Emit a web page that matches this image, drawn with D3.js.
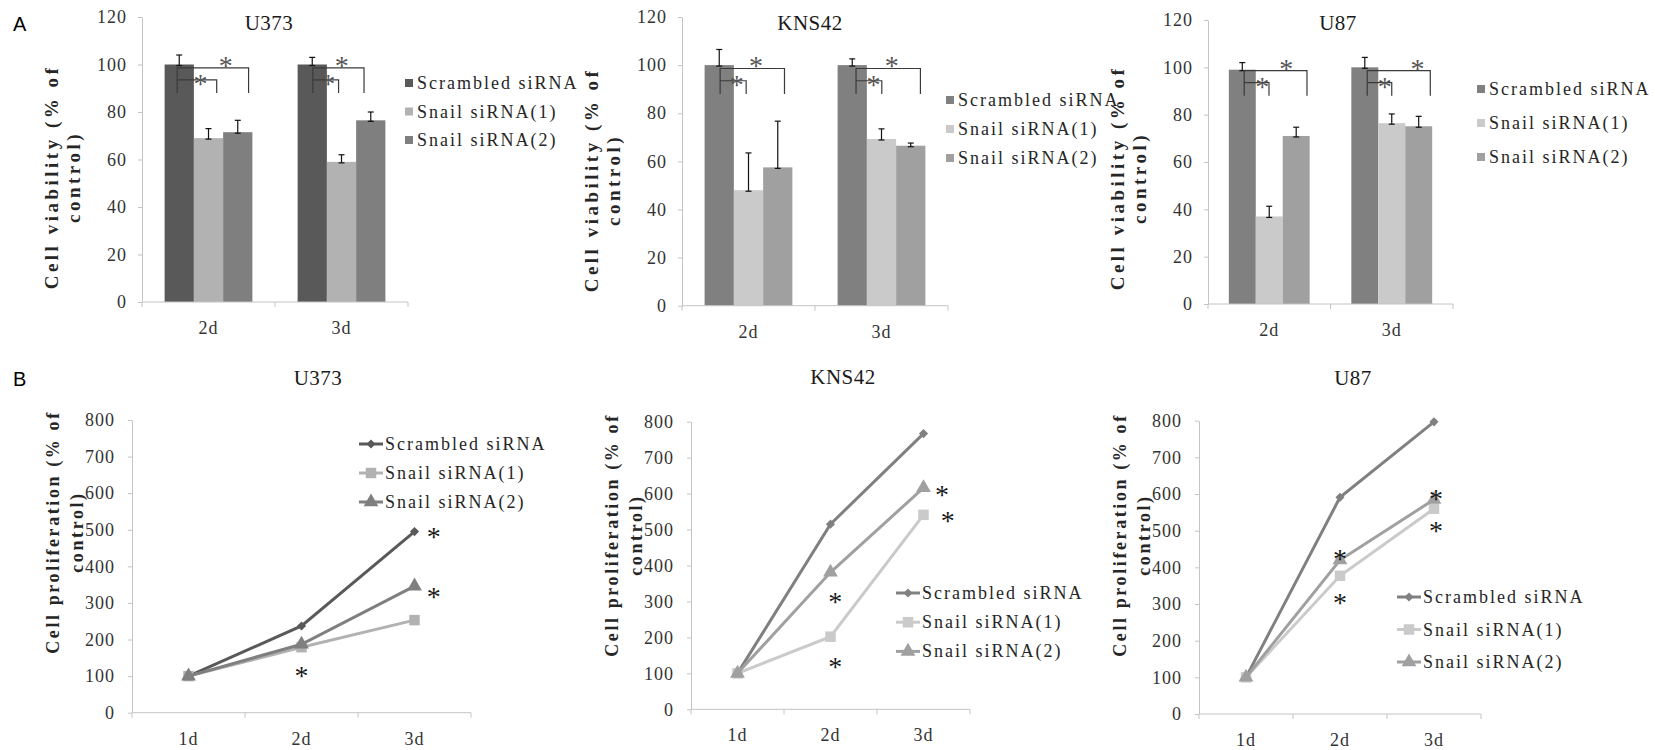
<!DOCTYPE html>
<html>
<head>
<meta charset="utf-8">
<script src="https://cdn.jsdelivr.net/npm/d3@7"></script>
<style>
  body { margin: 0; background: #fff; }
  svg { display: block; }
</style>
</head>
<body>
<svg id="fig" width="1655" height="750"></svg>
<script>
// Nombres de las series y categorias
const seriesNames = ['Scrambled siRNA', 'Snail siRNA(1)', 'Snail siRNA(2)']
const barDays = ['2d', '3d']
const lineDays = ['1d', '2d', '3d']
const viabilityTicks = [0, 20, 40, 60, 80, 100, 120]
const prolifTicks = [0, 100, 200, 300, 400, 500, 600, 700, 800]

// A: viabilidad (%), una fila por serie, columnas = 2d, 3d
const u373Viab = [[100, 100], [69, 59], [71.5, 76.5]]
const u373ViabErr = [[4, 3], [4, 3], [5, 3.5]]
const kns42Viab = [[100, 100], [48, 69.3], [57.5, 66.5]]
const kns42ViabErr = [[6.5, 2.6], [15.5, 4.2], [19.2, 1.1]]
const u87Viab = [[99, 100], [37, 76.4], [71, 75.1]]
const u87ViabErr = [[3, 4.2], [4.3, 3.9], [3.7, 4.2]]

// B: proliferacion (%), columnas = 1d, 2d, 3d
const u373Scrambled = [100, 237, 495]
const u373Snail1 = [100, 179, 253]
const u373Snail2 = [100, 187, 346]
const kns42Scrambled = [100, 515, 767]
const kns42Snail1 = [100, 202, 541]
const kns42Snail2 = [100, 381, 616]
const u87Scrambled = [100, 591, 797]
const u87Snail1 = [100, 377, 560]
const u87Snail2 = [100, 420, 585]

const svg = d3.select('#fig')
const serif = '"Liberation Serif", "Times New Roman", serif'
const axisGray = '#c4c4c4'

// Titulo del eje y en dos lineas (rotado)
const draw_y_title = (x1, x2, yc, lines, size, spacing) => {
  lines.forEach((t, i) => {
    svg.append('text')
      .attr('transform', `translate(${i === 0 ? x1 : x2},${yc}) rotate(-90)`)
      .attr('text-anchor', 'middle')
      .attr('dominant-baseline', 'central')
      .attr('font-family', serif)
      .attr('font-weight', 'bold')
      .attr('font-size', size)
      .attr('letter-spacing', spacing)
      .attr('fill', '#262626')
      .text(t)
  })
}

const draw_title = (x, y, t) => {
  svg.append('text')
    .attr('x', x).attr('y', y)
    .attr('text-anchor', 'middle')
    .attr('dominant-baseline', 'central')
    .attr('font-family', serif)
    .attr('font-size', 21)
    .attr('letter-spacing', 0.5)
    .attr('fill', '#1a1a1a')
    .text(t)
}

const draw_star = (x, y, color) => {
  svg.append('text')
    .attr('x', x).attr('y', y + 13)
    .attr('text-anchor', 'middle')
    .attr('font-family', serif)
    .attr('font-size', 28)
    .attr('fill', color)
    .text('*')
}

// Eje y estilo Excel
const draw_y_axis = (y, ticks, left, pad) => {
  const g = svg.append('g')
    .attr('transform', `translate(${left},0)`)
    .call(d3.axisLeft(y).tickValues(ticks).tickSize(4).tickSizeOuter(0).tickPadding(pad))
  g.selectAll('path, line').attr('stroke', axisGray)
  g.selectAll('text')
    .attr('font-family', serif)
    .attr('font-size', 18)
    .attr('letter-spacing', 1)
    .attr('fill', '#333')
}

// Eje x: linea, marcas en los limites y etiquetas centradas
const draw_x_axis = (x0, y0, bounds, centers, labels) => {
  svg.append('line')
    .attr('x1', bounds[0]).attr('x2', bounds[bounds.length - 1])
    .attr('y1', y0).attr('y2', y0)
    .attr('stroke', axisGray)
  svg.selectAll(null).data(bounds).enter().append('line')
    .attr('x1', d => d).attr('x2', d => d)
    .attr('y1', y0).attr('y2', y0 + 5)
    .attr('stroke', axisGray)
  svg.selectAll(null).data(labels).enter().append('text')
    .attr('x', (d, i) => centers[i])
    .attr('y', y0 + 26)
    .attr('text-anchor', 'middle')
    .attr('dominant-baseline', 'central')
    .attr('font-family', serif)
    .attr('font-size', 18)
    .attr('letter-spacing', 1)
    .attr('fill', '#333')
    .text(d => d)
}

const draw_bar_panel = cfg => {
  const y = d3.scaleLinear().domain([0, 120]).range([cfg.bottom, cfg.top])
  const x0 = d3.scaleBand().domain(barDays).range([cfg.left, cfg.right])
  const bw = x0.bandwidth()
  const x1 = d3.scaleBand().domain([0, 1, 2]).range([bw * 0.17, bw * 0.83])
  const barW = x1.bandwidth()

  draw_y_axis(y, viabilityTicks, cfg.left, 11)

  // Barras
  cfg.values.forEach((row, i) => {
    svg.selectAll(null).data(row).enter().append('rect')
      .attr('x', (d, j) => x0(barDays[j]) + x1(i))
      .attr('y', d => y(d))
      .attr('width', barW)
      .attr('height', d => y(0) - y(d))
      .attr('fill', cfg.colors[i])
  })

  draw_x_axis(x0, y(0),
    [x0('2d'), x0('3d'), x0('3d') + bw],
    barDays.map(d => x0(d) + bw / 2), barDays)

  // Barras de error
  cfg.values.forEach((row, i) => {
    row.forEach((v, j) => {
      const cx = x0(barDays[j]) + x1(i) + barW / 2
      const top = y(v + cfg.errors[i][j])
      const bot = y(v) + 1
      const eg = svg.append('g').attr('stroke', '#111').attr('stroke-width', 1.2)
      eg.append('line').attr('x1', cx).attr('x2', cx).attr('y1', top).attr('y2', bot)
      eg.append('line').attr('x1', cx - 3).attr('x2', cx + 3).attr('y1', top).attr('y2', top)
      eg.append('line').attr('x1', cx - 3).attr('x2', cx + 3).attr('y1', bot).attr('y2', bot)
    })
  })

  // Corchetes de significancia (posiciones en anchos de barra desde el centro del grupo)
  cfg.brackets.forEach((b, j) => {
    const c = x0(barDays[j]) + bw / 2
    const px = u => c + u * barW
    const yo = y(98.6), yi = y(93.5), yf = y(88)
    const path = d3.path()
    path.moveTo(px(b[0]), yf); path.lineTo(px(b[0]), yo); path.lineTo(px(b[2]), yo); path.lineTo(px(b[2]), yf)
    path.moveTo(px(b[0]), yi); path.lineTo(px(b[1]), yi); path.lineTo(px(b[1]), yf)
    svg.append('path').attr('d', path.toString())
      .attr('fill', 'none').attr('stroke', '#3a3a3a').attr('stroke-width', 1.2)
    draw_star(px(b[3]), yi, '#555')
    draw_star(px(b[4]), yo - 6, '#555')
  })

  // Leyenda
  seriesNames.forEach((n, i) => {
    const ly = cfg.legY + i * cfg.legGap
    svg.append('rect')
      .attr('x', cfg.legX).attr('y', ly - 4).attr('width', 8).attr('height', 8)
      .attr('fill', cfg.colors[i])
    svg.append('text')
      .attr('x', cfg.legX + 12).attr('y', ly)
      .attr('dominant-baseline', 'central')
      .attr('font-family', serif)
      .attr('font-size', 18)
      .attr('letter-spacing', 2)
      .attr('fill', '#262626')
      .text(n)
  })

  draw_title(cfg.titleX, cfg.titleY, cfg.title)
  draw_y_title(cfg.left - 91, cfg.left - 69, cfg.yTitleC, ['Cell viability (% of', 'control)'], 19, 3.5)
}

const marker_path = i => {
  if (i === 0) return d3.symbol(d3.symbolSquare, 42)()
  if (i === 1) return d3.symbol(d3.symbolSquare, 110)()
  return d3.symbol(d3.symbolTriangle, 95)()
}

const draw_line_panel = cfg => {
  const y = d3.scaleLinear().domain([0, 800]).range([cfg.bottom, cfg.top])
  const x = d3.scalePoint().domain(lineDays).range([cfg.left, cfg.right]).padding(0.5)
  const step = x.step()

  draw_y_axis(y, prolifTicks, cfg.left, 13)
  draw_x_axis(x, y(0),
    lineDays.map(d => x(d) - step / 2).concat([x('3d') + step / 2]),
    lineDays.map(d => x(d)), lineDays)

  const line = d3.line().x((d, j) => x(lineDays[j])).y(d => y(d))

  cfg.series.forEach((s, i) => {
    svg.append('path').datum(s)
      .attr('d', line)
      .attr('fill', 'none')
      .attr('stroke', cfg.colors[i])
      .attr('stroke-width', 3)
    svg.selectAll(null).data(s).enter().append('path')
      .attr('d', marker_path(i))
      .attr('transform', (d, j) => `translate(${x(lineDays[j])},${y(d)})${i === 0 ? ' rotate(45)' : ''}`)
      .attr('fill', cfg.colors[i])
  })

  cfg.stars.forEach(s => draw_star(x(s[0]) + s[2] * step, y(s[1]), '#1a1a1a'))

  // Leyenda con linea y marcador
  seriesNames.forEach((n, i) => {
    const ly = cfg.legY + i * cfg.legGap
    svg.append('line')
      .attr('x1', cfg.legX).attr('x2', cfg.legX + 24)
      .attr('y1', ly).attr('y2', ly)
      .attr('stroke', cfg.colors[i]).attr('stroke-width', 3)
    svg.append('path')
      .attr('d', marker_path(i))
      .attr('transform', `translate(${cfg.legX + 12},${ly})${i === 0 ? ' rotate(45)' : ''}`)
      .attr('fill', cfg.colors[i])
    svg.append('text')
      .attr('x', cfg.legX + 26).attr('y', ly)
      .attr('dominant-baseline', 'central')
      .attr('font-family', serif)
      .attr('font-size', 18)
      .attr('letter-spacing', 2)
      .attr('fill', '#262626')
      .text(n)
  })

  draw_title(cfg.titleX, cfg.titleY, cfg.title)
  draw_y_title(cfg.left - 79, cfg.left - 55, cfg.yTitleC, ['Cell proliferation (% of', 'control)'], 18, 2.6)
}

const darkColors = ['#595959', '#b2b2b2', '#7f7f7f']
const lightColors = ['#808080', '#cacaca', '#a0a0a0']

draw_bar_panel({
  left: 142, right: 408, top: 17, bottom: 302,
  values: u373Viab, errors: u373ViabErr, colors: darkColors,
  brackets: [[-1.07, 0.28, 1.37, -0.27, 0.59], [-0.98, -0.10, 0.77, -0.45, 0.01]],
  legX: 405, legY: 83, legGap: 28.5,
  title: 'U373', titleX: 269, titleY: 23, yTitleC: 177
})

draw_bar_panel({
  left: 682, right: 948, top: 17, bottom: 305.7,
  values: kns42Viab, errors: kns42ViabErr, colors: lightColors,
  brackets: [[-0.97, -0.08, 1.23, -0.4, 0.26], [-0.87, 0.01, 1.33, -0.27, 0.35]],
  legX: 946, legY: 100, legGap: 29,
  title: 'KNS42', titleX: 810, titleY: 23, yTitleC: 180
})

draw_bar_panel({
  left: 1208, right: 1453, top: 20, bottom: 304,
  values: u87Viab, errors: u87ViabErr, colors: lightColors,
  brackets: [[-0.93, -0.01, 1.40, -0.26, 0.63], [-0.91, 0, 1.43, -0.26, 0.96]],
  legX: 1477, legY: 89, legGap: 34,
  title: 'U87', titleX: 1338, titleY: 23, yTitleC: 178
})

draw_line_panel({
  left: 132, right: 471, top: 420, bottom: 712.7,
  series: [u373Scrambled, u373Snail1, u373Snail2], colors: darkColors,
  stars: [['3d', 490, 0.17], ['3d', 328, 0.17], ['2d', 112, 0]],
  legX: 359, legY: 444, legGap: 29,
  title: 'U373', titleX: 318, titleY: 378, yTitleC: 532
})

draw_line_panel({
  left: 691, right: 970, top: 421.7, bottom: 709.3,
  series: [kns42Scrambled, kns42Snail1, kns42Snail2], colors: lightColors,
  stars: [['3d', 608, 0.2], ['3d', 536, 0.26], ['2d', 309, 0.05], ['2d', 130, 0.05]],
  legX: 896, legY: 593, legGap: 29.2,
  title: 'KNS42', titleX: 843, titleY: 377, yTitleC: 535
})

draw_line_panel({
  left: 1199, right: 1481, top: 420.7, bottom: 714,
  series: [u87Scrambled, u87Snail1, u87Snail2], colors: lightColors,
  stars: [['2d', 434, 0], ['2d', 315, 0], ['3d', 597, 0.02], ['3d', 509, 0.02]],
  legX: 1397, legY: 597, legGap: 32.5,
  title: 'U87', titleX: 1353, titleY: 378, yTitleC: 535
})

// Letras de panel
svg.append('text').attr('x', 13).attr('y', 31)
  .attr('font-family', '"Liberation Sans", Arial, sans-serif').attr('font-size', 20).text('A')
svg.append('text').attr('x', 13).attr('y', 386)
  .attr('font-family', '"Liberation Sans", Arial, sans-serif').attr('font-size', 20).text('B')
</script>
</body>
</html>
